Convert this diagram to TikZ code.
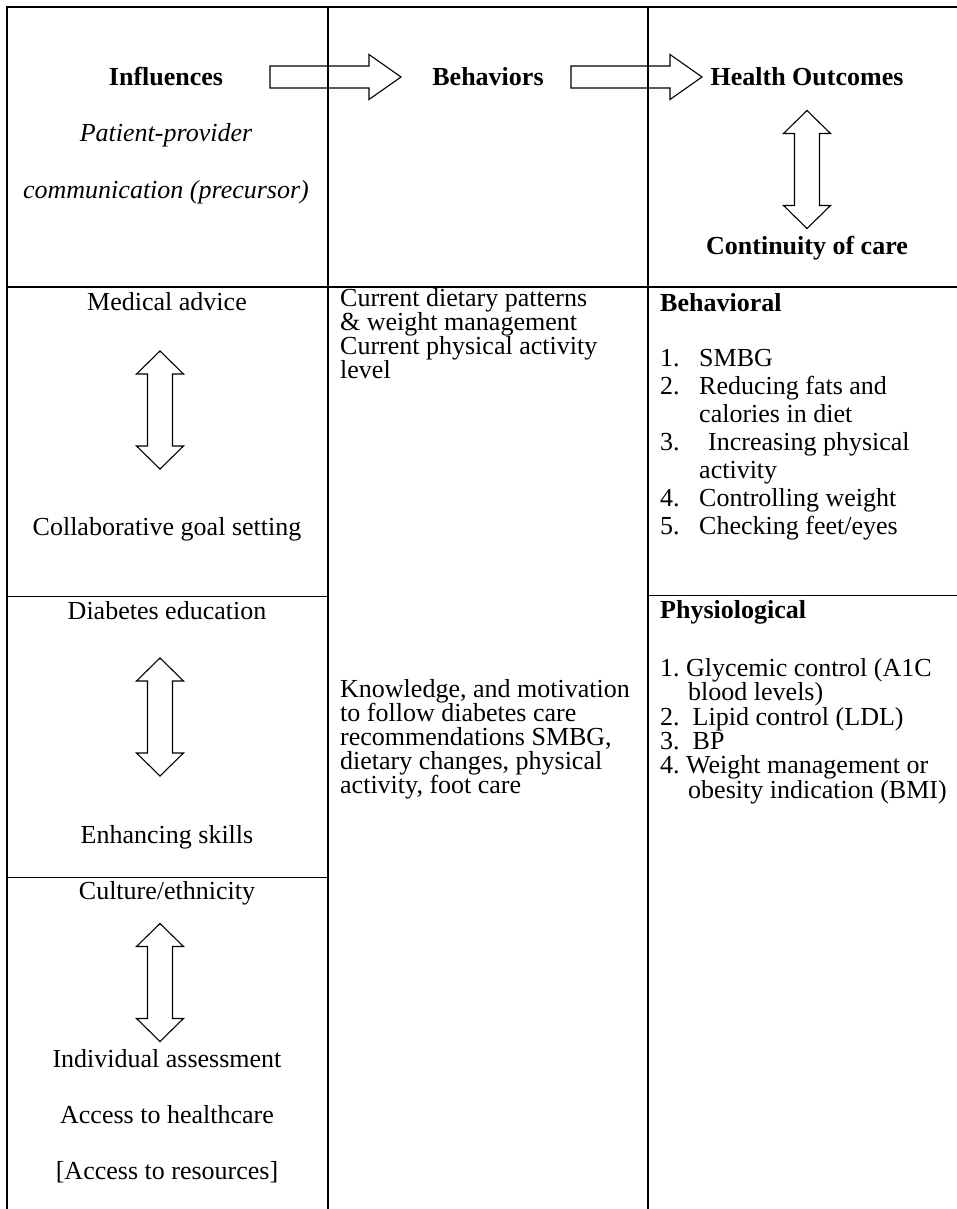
\documentclass[tikz,border=0pt]{standalone}
\usepackage{fontspec}
\setmainfont{Liberation Serif}
\frenchspacing
\tikzset{
  updown/.pic={\draw[hollow] (0,-59) -- (23.5,-36) -- (12.5,-36) -- (12.5,36) -- (23.5,36) -- (0,59) -- (-23.5,36) -- (-12.5,36) -- (-12.5,-36) -- (-23.5,-36) -- cycle;},
  rightblock/.pic={\draw[hollow] (0,-11) -- (99,-11) -- (99,-22.5) -- (131,0) -- (99,22.5) -- (99,11) -- (0,11) -- cycle;}
}
\begin{document}
\begin{tikzpicture}[x=1pt,y=-1pt]
		\tikzstyle{txt} = [inner sep=0pt, font=\fontsize{26}{24}\selectfont]
		\tikzstyle{ctr} = [txt, anchor=base]
		\tikzstyle{lft} = [txt, anchor=base west]
		\tikzstyle{head} = [ctr, font=\fontsize{26}{24}\selectfont\bfseries]
		\tikzstyle{slanted} = [ctr, font=\fontsize{26}{24}\selectfont\itshape]
		\tikzstyle{boldl} = [lft, font=\fontsize{26}{24}\selectfont\bfseries]
		\tikzstyle{grid} = [line width=1.8pt]
		\tikzstyle{rule} = [line width=1pt]
		\tikzstyle{hollow} = [draw, line width=1.1pt]
		\useasboundingbox (0,0) rectangle (957,1209);
		% table lines
		\draw[grid] (7,1209) -- (7,7) -- (957,7);
		\draw[grid] (328,7) -- (328,1209);
		\draw[grid] (648,7) -- (648,1209);
		\draw[grid] (7,287) -- (957,287);
		\draw[rule] (7,596) -- (328,596);
		\draw[rule] (7,877) -- (328,877);
		\draw[rule] (648,595) -- (957,595);
		% header row
		\node[head] (infl) at (166,86) {Influences};
		\node[slanted] (pp1) at (166,142) {Patient-provider};
		\node[slanted] (pp2) at (166,198) {communication (precursor)};
		\node[head] (beh) at (488,86) {Behaviors};
		\node[head] (ho) at (807,86) {Health Outcomes};
		\node[head] (coc) at (807,254) {Continuity of care};
		\pic at (270,77) {rightblock};
		\pic at (571,77) {rightblock};
		\pic at (807,169.5) {updown};
		% influences
		\node[ctr] (med) at (167,310) {Medical advice};
		\node[ctr] (collab) at (167,535) {Collaborative goal setting};
		\node[ctr] (edu) at (167,619) {Diabetes education};
		\node[ctr] (skill) at (167,843) {Enhancing skills};
		\node[ctr] (cult) at (167,899) {Culture/ethnicity};
		\node[ctr] (indiv) at (167,1067) {Individual assessment};
		\node[ctr] (acchc) at (167,1123) {Access to healthcare};
		\node[ctr] (accres) at (167,1179) {[Access to resources]};
		\pic at (160,410) {updown};
		\pic at (160,717) {updown};
		\pic at (160,982.5) {updown};
		% behaviors
		\foreach \t [count=\i from 0] in {Current dietary patterns, \& weight management, Current physical activity, level}
			\node[lft] (cur\i) at (340,306+24.3*\i) {\t};
		\foreach \t [count=\i from 0] in {{Knowledge, and motivation}, to follow diabetes care, {recommendations SMBG,}, {dietary changes, physical}, {activity, foot care}}
			\node[lft] (know\i) at (340,697+24*\i) {\t};
		% health outcomes
		\node[boldl] (behv) at (660,311) {Behavioral};
		\foreach \n/\t [count=\i from 0] in {1./SMBG, 2./{Reducing fats and}, /{calories in diet}, 3./{\hspace{9pt}Increasing physical}, /activity, 4./{Controlling weight}, 5./{Checking feet/eyes}}
		{
			\node[lft] (bn\i) at (660,366+28.1*\i) {\n};
			\node[lft] (bt\i) at (699,366+28.1*\i) {\t};
		}
		\node[boldl] (phys) at (660,618) {Physiological};
		\node[lft] (ph1) at (660,676) {1. Glycemic control (A1C};
		\node[lft] (ph1b) at (688,700) {blood levels)};
		\node[lft] (ph2) at (660,725) {2.\ \ Lipid control (LDL)};
		\node[lft] (ph3) at (660,749) {3.\ \ BP};
		\node[lft] (ph4) at (660,773) {4. Weight management or};
		\node[lft] (ph4b) at (688,798) {obesity indication (BMI)};
	\end{tikzpicture}
\end{document}
